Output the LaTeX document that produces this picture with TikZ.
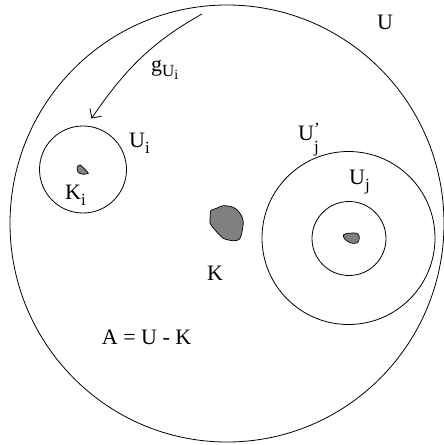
\documentclass[tikz,border=0pt]{standalone}
\usepackage{fontspec}
\setmainfont{Liberation Serif}
\usetikzlibrary{arrows.meta}
\newcommand{\lowsub}[2][6pt]{\raisebox{-#1}{\fontsize{17}{19}\selectfont #2}}
\newcommand{\lowsubsub}[1]{\raisebox{-3pt}{\fontsize{14}{16}\selectfont #1}}
\begin{document}
\begin{tikzpicture}[x=1pt,y=-1pt,
  ring/.style={draw=black,line width=0.8pt},
  blob/.style={draw=black,line width=0.7pt,fill=black!50},
  lbl/.style={inner sep=0pt,anchor=base west,font=\fontsize{22}{26}\selectfont}]
\useasboundingbox (0,0) rectangle (444,445);
% circles
\draw[ring] (227,223.5) ellipse [x radius=217,y radius=218.5];
\node[ring,circle,minimum size=87pt,inner sep=0pt] (ui) at (83,169.5) {};
\node[ring,circle,minimum size=173pt,inner sep=0pt] (ujp) at (348.5,238) {};
\node[ring,circle,minimum size=74pt,inner sep=0pt] (uj) at (349,238.5) {};
% blobs
\draw[blob] plot[smooth cycle,tension=0.5] coordinates {(210.7,210.7) (216,208.5) (223.3,205.7) (233.3,207.3) (240,213.3) (243.3,221.7) (241.7,233.3) (239.3,239.3) (233.3,240.7) (223.3,238.3) (215,230) (210,223.3) (210.3,216.7)};
\draw[blob] plot[smooth cycle,tension=0.4] coordinates {(77.3,166.7) (80,165) (85,169.3) (88.3,173.3) (83.3,174.3) (78.3,172.7) (77.3,169.3)};
\draw[blob] plot[smooth cycle,tension=0.5] coordinates {(343.3,235) (348.3,233.3) (356.7,233.3) (359.3,236.7) (358.3,241.7) (355,243.3) (350,242.7) (345,239.3)};
% arrow
\coordinate (gs) at (202,14);
\coordinate (ge) at (91.5,118.5);
\draw[line width=0.8pt,-{Straight Barb[length=7pt,width=14pt]}] (gs) .. controls (154,41) and (126.4,67.1) .. (ge);
% labels
\node[lbl] (lU) at (377,29) {U};
\node[lbl] (lg) at (151,71) {g\lowsub[5pt]{U\lowsubsub{i}}};
\node[lbl] (lUi) at (129,147) {U\lowsub{i}};
\node[lbl] (lKi) at (65,199) {K\lowsub{i}};
\node[lbl] (lUjp) at (298,140) {U\rlap{\raisebox{6pt}{\fontsize{17}{19}\selectfont ’}}\lowsub[12pt]{j}};
\node[lbl] (lUj) at (349,184) {U\lowsub{j}};
\node[lbl] (lK) at (207,280) {K};
\node[lbl] (lA) at (101.7,344) {A = U - K};
\end{tikzpicture}
\end{document}
